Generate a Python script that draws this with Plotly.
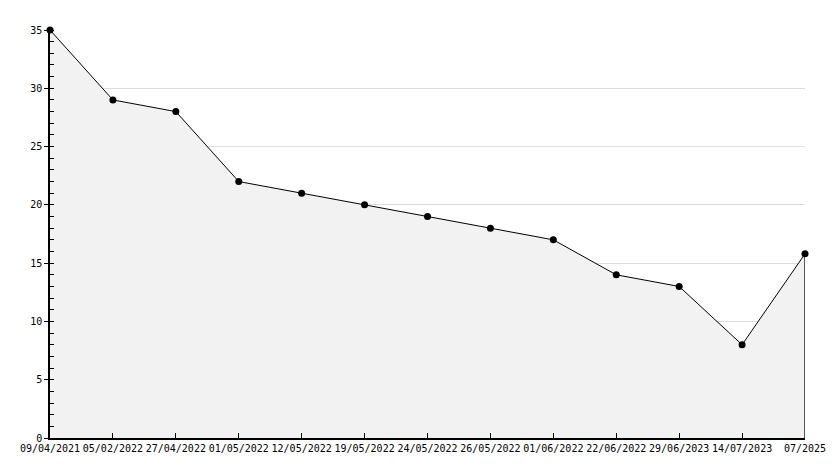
import plotly.graph_objects as go

dates = ["09/04/2021", "05/02/2022", "27/04/2022", "01/05/2022", "12/05/2022",
         "19/05/2022", "24/05/2022", "26/05/2022", "01/06/2022", "22/06/2022",
         "29/06/2023", "14/07/2023", "07/2025"]
values = [35, 29, 28, 22, 21, 20, 19, 18, 17, 14, 13, 8, 15.8]

fig = go.Figure()
fig.add_trace(go.Scatter(
    x=dates, y=values, mode="lines+markers",
    fill="tozeroy", fillcolor="#f2f2f2", cliponaxis=False,
    line=dict(color="black", width=1),
    marker=dict(color="black", size=7, symbol="circle"),
    hoverinfo="skip", showlegend=False,
))
fig.add_trace(go.Scatter(
    x=[dates[-1], dates[-1]], y=[0, values[-1]], mode="lines",
    line=dict(color="black", width=1.3), hoverinfo="skip", showlegend=False,
))

font = dict(family="DejaVu Sans Mono", size=10, color="black")
fig.update_layout(
    width=834, height=468,
    margin=dict(l=50, r=29, t=30, b=30),
    paper_bgcolor="white", plot_bgcolor="white",
    font=font,
    xaxis=dict(
        type="category", categoryorder="array", categoryarray=dates,
        range=[0, len(dates) - 1], automargin=False,
        showgrid=False, showline=True, linecolor="black", linewidth=1.5,
        ticks="inside", ticklen=5, tickcolor="black", tickwidth=1,
        tickfont=font, zeroline=False,
    ),
    yaxis=dict(
        range=[0, 35], tickvals=[0, 5, 10, 15, 20, 25, 30, 35], automargin=False,
        showgrid=True, gridcolor="#dddddd", gridwidth=1,
        showline=True, linecolor="black", linewidth=1.5,
        ticks="outside", ticklen=4, tickcolor="black",
        minor=dict(dtick=1, ticks="inside", ticklen=4, tickcolor="black", showgrid=False),
        tickfont=font, zeroline=False,
    ),
)
fig.write_html("out.html", config={"displayModeBar": False},
               post_script="document.body.style.margin='0';document.body.style.overflow='hidden';")
